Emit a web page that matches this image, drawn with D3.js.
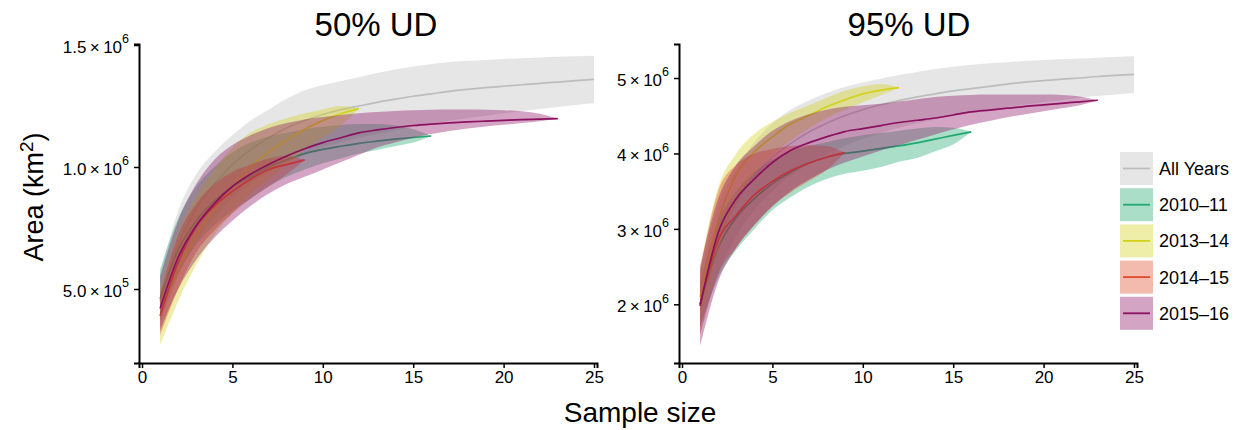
<!DOCTYPE html>
<html>
<head>
<meta charset="utf-8">
<script src="https://cdn.jsdelivr.net/npm/d3@7"></script>
<style>
  html, body { margin: 0; padding: 0; background: #fff; }
  svg { display: block; font-family: "Liberation Sans", Arial, Helvetica, sans-serif; }
</style>
</head>
<body>
<svg id="chart" width="1242" height="430"></svg>
<script>
// ---------------- DATA (areas in units of 10^6 km²) ----------------
const seriesNames = ["All Years", "2010\u201311", "2013\u201314", "2014\u201315", "2015\u201316"];
const seriesColors = ["#bdbdbd", "#22a872", "#d2d21c", "#e04a2a", "#8b1060"];
const sampleSize = [1,2,3,4,5,6,7,8,9,10,11,12,13,14,15,16,17,18,19,20,21,22,23,24,25];

// 50% UD
const ud50AllMean  = [0.45,0.68,0.83,0.93,1.01,1.07,1.12,1.16,1.19,1.215,1.235,1.25,1.265,1.278,1.29,1.30,1.31,1.318,1.325,1.331,1.337,1.343,1.348,1.354,1.359];
const ud50AllUpper = [0.56,0.82,0.97,1.06,1.13,1.19,1.235,1.28,1.315,1.335,1.352,1.368,1.385,1.40,1.412,1.422,1.43,1.435,1.439,1.443,1.446,1.449,1.452,1.454,1.456];
const ud50AllLower = [0.35,0.55,0.69,0.79,0.87,0.93,0.98,1.02,1.05,1.08,1.10,1.12,1.135,1.15,1.165,1.18,1.19,1.20,1.21,1.22,1.23,1.238,1.246,1.254,1.261];

const ud50GreenMean  = [0.46,0.66,0.78,0.86,0.92,0.96,1.00,1.03,1.055,1.072,1.085,1.097,1.106,1.114,1.121,1.127];
const ud50GreenUpper = [0.58,0.79,0.92,1.00,1.06,1.10,1.125,1.14,1.155,1.165,1.172,1.176,1.176,1.17,1.155,1.127];
const ud50GreenLower = [0.37,0.56,0.68,0.76,0.82,0.87,0.92,0.96,0.99,1.015,1.035,1.055,1.07,1.085,1.10,1.127];

const ud50YellowMean  = [0.39,0.58,0.72,0.83,0.92,1.00,1.06,1.11,1.155,1.19,1.218,1.239];
const ud50YellowUpper = [0.50,0.73,0.88,0.99,1.08,1.14,1.175,1.20,1.22,1.237,1.25,1.239];
const ud50YellowLower = [0.27,0.45,0.60,0.72,0.81,0.89,0.95,1.01,1.07,1.12,1.17,1.239];

const ud50RedMean  = [0.39,0.61,0.755,0.84,0.90,0.95,0.99,1.01,1.029];
const ud50RedUpper = [0.48,0.72,0.85,0.93,0.98,1.01,1.035,1.045,1.029];
const ud50RedLower = [0.31,0.50,0.65,0.74,0.81,0.87,0.92,0.97,1.029];

const ud50PurpleMean  = [0.42,0.63,0.76,0.85,0.92,0.97,1.01,1.045,1.075,1.10,1.12,1.14,1.152,1.162,1.17,1.176,1.181,1.185,1.188,1.191,1.194,1.196,1.198];
const ud50PurpleUpper = [0.55,0.78,0.93,1.03,1.09,1.13,1.16,1.18,1.195,1.205,1.213,1.22,1.225,1.23,1.233,1.235,1.236,1.236,1.235,1.233,1.228,1.218,1.198];
const ud50PurpleLower = [0.33,0.50,0.62,0.71,0.78,0.84,0.89,0.93,0.96,0.99,1.02,1.05,1.08,1.10,1.12,1.135,1.148,1.158,1.166,1.173,1.18,1.188,1.198];

// 95% UD
const ud95AllMean  = [2.0,2.85,3.35,3.7,3.95,4.13,4.28,4.40,4.50,4.58,4.645,4.70,4.75,4.79,4.83,4.86,4.89,4.92,4.945,4.965,4.985,5.0,5.02,5.035,5.049];
const ud95AllUpper = [2.4,3.3,3.8,4.15,4.4,4.58,4.70,4.80,4.88,4.94,4.99,5.04,5.08,5.12,5.15,5.175,5.195,5.21,5.225,5.24,5.25,5.26,5.27,5.28,5.287];
const ud95AllLower = [1.6,2.4,2.9,3.25,3.5,3.7,3.86,3.99,4.1,4.19,4.27,4.34,4.4,4.45,4.5,4.54,4.58,4.62,4.65,4.68,4.71,4.74,4.76,4.78,4.80];

const ud95GreenMean  = [2.0,2.75,3.15,3.4,3.6,3.75,3.87,3.95,4.0,4.03,4.065,4.1,4.14,4.19,4.24,4.287];
const ud95GreenUpper = [2.3,3.1,3.5,3.75,3.92,4.04,4.1,4.15,4.2,4.24,4.27,4.3,4.33,4.35,4.34,4.287];
const ud95GreenLower = [1.7,2.35,2.72,3.0,3.25,3.42,3.56,3.66,3.73,3.77,3.82,3.89,3.94,4.03,4.12,4.287];

const ud95YellowMean  = [2.1,3.1,3.72,4.02,4.22,4.39,4.5,4.62,4.71,4.79,4.84,4.873];
const ud95YellowUpper = [2.5,3.55,4.0,4.26,4.42,4.54,4.64,4.74,4.83,4.89,4.92,4.873];
const ud95YellowLower = [1.75,2.7,3.35,3.72,3.98,4.17,4.33,4.47,4.58,4.68,4.77,4.873];

const ud95RedMean  = [2.0,2.85,3.18,3.45,3.63,3.77,3.87,3.95,4.01];
const ud95RedUpper = [2.45,3.5,3.85,4.0,4.06,4.1,4.11,4.1,4.01];
const ud95RedLower = [1.6,2.4,2.75,3.05,3.3,3.48,3.63,3.78,4.01];

const ud95PurpleMean  = [1.98,2.95,3.4,3.66,3.88,4.04,4.14,4.22,4.29,4.33,4.37,4.41,4.44,4.47,4.51,4.55,4.575,4.6,4.625,4.645,4.665,4.685,4.705];
const ud95PurpleUpper = [2.5,3.4,3.85,4.1,4.3,4.43,4.52,4.58,4.62,4.64,4.66,4.69,4.72,4.75,4.765,4.775,4.78,4.78,4.78,4.78,4.775,4.755,4.705];
const ud95PurpleLower = [1.45,2.3,2.75,3.05,3.3,3.5,3.65,3.78,3.88,3.96,4.04,4.11,4.18,4.25,4.32,4.38,4.43,4.48,4.52,4.56,4.6,4.64,4.705];

// tick labels
const xTicks = [0, 5, 10, 15, 20, 25];
const leftYTicks = [0.5, 1.0, 1.5];
const leftYMantissa = ["5.0", "1.0", "1.5"];
const leftYExponent = ["5", "6", "6"];
const rightYTicks = [2, 3, 4, 5];
const rightYMantissa = ["2", "3", "4", "5"];
const rightYExponent = ["6", "6", "6", "6"];

// ---------------- BUILD ----------------
function build(mean, upper, lower) {
  return mean.map((m, i) => ({ x: sampleSize[i], m: m, hi: upper[i], lo: lower[i] }));
}
const panel50 = [
  build(ud50AllMean, ud50AllUpper, ud50AllLower),
  build(ud50GreenMean, ud50GreenUpper, ud50GreenLower),
  build(ud50YellowMean, ud50YellowUpper, ud50YellowLower),
  build(ud50RedMean, ud50RedUpper, ud50RedLower),
  build(ud50PurpleMean, ud50PurpleUpper, ud50PurpleLower)
];
const panel95 = [
  build(ud95AllMean, ud95AllUpper, ud95AllLower),
  build(ud95GreenMean, ud95GreenUpper, ud95GreenLower),
  build(ud95YellowMean, ud95YellowUpper, ud95YellowLower),
  build(ud95RedMean, ud95RedUpper, ud95RedLower),
  build(ud95PurpleMean, ud95PurpleUpper, ud95PurpleLower)
];

const svg = d3.select("#chart");
const FILL_OPACITY = 0.38;
const FONT = "\"Liberation Sans\", Arial, sans-serif";

function drawPanel(cfg) {
  const x = d3.scaleLinear().domain([-0.166, 25.166]).range([cfg.left, cfg.right]);
  const y = d3.scaleLinear().domain(cfg.yDomain).range([363, 44]);
  const g = svg.append("g");

  const area = d3.area().curve(d3.curveMonotoneX)
    .x(d => x(d.x)).y0(d => y(d.lo)).y1(d => y(d.hi));
  const line = d3.line().curve(d3.curveMonotoneX)
    .x(d => x(d.x)).y(d => y(d.m));

  cfg.data.forEach((s, i) => {
    g.append("path").attr("d", area(s))
      .attr("fill", seriesColors[i]).attr("fill-opacity", FILL_OPACITY).attr("stroke", "none");
    g.append("path").attr("d", line(s))
      .attr("fill", "none").attr("stroke", seriesColors[i]).attr("stroke-width", 1.7);
  });

  // x axis
  const xa = svg.append("g").attr("transform", "translate(0,363)")
    .call(d3.axisBottom(x).tickValues(xTicks).tickSizeOuter(0).tickSize(5).tickPadding(3));
  xa.attr("font-size", null).attr("font-family", null);
  xa.select(".domain").attr("stroke", "#000").attr("stroke-width", 2);
  xa.selectAll(".tick line").attr("stroke", "#000").attr("stroke-width", 1.5);
  xa.selectAll(".tick text").style("font-size", "17px").attr("fill", "#000").style("font-family", FONT);

  // y axis
  const ya = svg.append("g").attr("transform", `translate(${cfg.left},0)`)
    .call(d3.axisLeft(y).tickValues(cfg.yTicks).tickSizeOuter(0).tickSize(5).tickPadding(8).tickFormat(""));
  ya.attr("font-size", null).attr("font-family", null);
  ya.select(".domain").attr("stroke", "#000").attr("stroke-width", 2);
  ya.selectAll(".tick line").attr("stroke", "#000").attr("stroke-width", 1.5);
  ya.selectAll(".tick").each(function(d, i) {
    const t = d3.select(this).select("text");
    t.text(null).style("font-size", "17px").attr("fill", "#000").attr("x", -10).attr("dy", "0.42em")
      .style("font-family", FONT);
    t.append("tspan").text(cfg.mant[i] + "\u2009\u00d7\u200910");
    t.append("tspan").text(cfg.exp[i]).style("font-size", "12.5px").attr("dy", "-0.75em");
  });

  // title
  svg.append("text").attr("x", cfg.titleX).attr("y", 36).attr("text-anchor", "middle")
    .style("font-size", "33px").attr("fill", "#000").text(cfg.title);
}

drawPanel({ data: panel50, left: 139, right: 597, yDomain: [0.1967, 1.5041],
  yTicks: leftYTicks, mant: leftYMantissa, exp: leftYExponent, title: "50% UD", titleX: 376 });
drawPanel({ data: panel95, left: 679, right: 1137, yDomain: [1.222, 5.451],
  yTicks: rightYTicks, mant: rightYMantissa, exp: rightYExponent, title: "95% UD", titleX: 909 });

// axis titles
const yt = svg.append("text").attr("transform", "translate(43,197) rotate(-90)")
  .attr("text-anchor", "middle").style("font-size", "27px").attr("fill", "#000");
yt.append("tspan").text("Area (km");
yt.append("tspan").text("2").style("font-size", "19px").attr("dy", "-0.55em");
yt.append("tspan").text(")").attr("dy", "0.38em");

svg.append("text").attr("x", 640).attr("y", 422).attr("text-anchor", "middle")
  .style("font-size", "28px").attr("fill", "#000").text("Sample size");

// legend
const legend = svg.append("g").attr("transform", "translate(1120,152)");
seriesNames.forEach((name, i) => {
  const gy = i * 36.2;
  const item = legend.append("g").attr("transform", `translate(0,${gy})`);
  item.append("rect").attr("width", 33).attr("height", 33).attr("fill", "#fff");
  item.append("rect").attr("width", 33).attr("height", 33)
    .attr("fill", seriesColors[i]).attr("fill-opacity", FILL_OPACITY);
  item.append("line").attr("x1", 3).attr("x2", 30).attr("y1", 16.5).attr("y2", 16.5)
    .attr("stroke", seriesColors[i]).attr("stroke-width", 1.8);
  item.append("text").attr("x", 39).attr("y", 16.5).attr("dy", "0.36em")
    .style("font-size", "18px").attr("fill", "#000").text(name);
});
</script>
</body>
</html>
